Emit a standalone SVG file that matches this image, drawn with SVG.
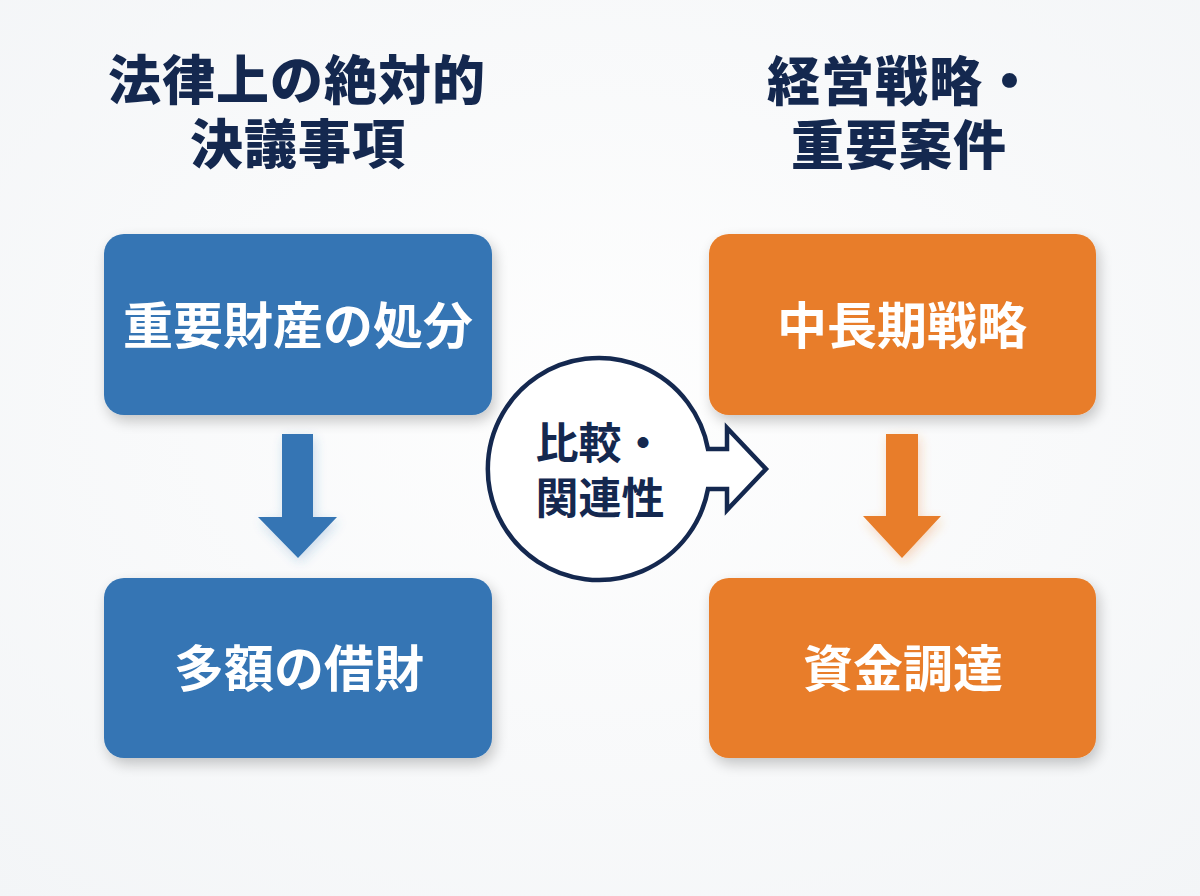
<svg xmlns="http://www.w3.org/2000/svg" width="1200" height="896" viewBox="0 0 1200 896">
  <defs>
    <radialGradient id="bg" cx="50%" cy="45%" r="75%">
      <stop offset="0" stop-color="#FEFEFE"/>
      <stop offset="1" stop-color="#F3F5F7"/>
    </radialGradient>
    <filter id="shadow" x="-15%" y="-15%" width="130%" height="140%">
      <feGaussianBlur in="SourceAlpha" stdDeviation="7"/>
      <feOffset dx="3" dy="6" result="b"/>
      <feComponentTransfer><feFuncA type="linear" slope="0.22"/></feComponentTransfer>
      <feMerge><feMergeNode/><feMergeNode in="SourceGraphic"/></feMerge>
    </filter>
    <filter id="glowBlue" x="-40%" y="-20%" width="180%" height="150%">
      <feGaussianBlur in="SourceGraphic" stdDeviation="6"/>
      <feOffset dx="2" dy="4"/>
      <feComponentTransfer><feFuncA type="linear" slope="0.25"/></feComponentTransfer>
      <feMerge><feMergeNode/><feMergeNode in="SourceGraphic"/></feMerge>
    </filter>
    <filter id="glowOrange" x="-40%" y="-20%" width="180%" height="150%">
      <feGaussianBlur in="SourceGraphic" stdDeviation="6"/>
      <feOffset dx="2" dy="4"/>
      <feComponentTransfer><feFuncA type="linear" slope="0.3"/></feComponentTransfer>
      <feMerge><feMergeNode/><feMergeNode in="SourceGraphic"/></feMerge>
    </filter>
  </defs>
  <style>
    text { font-family: "Noto Sans CJK JP", "Noto Sans", sans-serif; font-weight: 700; text-anchor: middle; }
    .title { font-size: 53px; fill: #14284F; font-weight: 900; letter-spacing: 1px; }
    .label { font-size: 50px; fill: #FFFFFF; }
    .center { font-size: 43px; fill: #14284F; }
    .blue { fill: #3475B4; }
    .orange { fill: #E87D29; }
  </style>
  <rect width="1200" height="896" fill="url(#bg)"/>

  <g id="title-left">
    <text class="title" x="297" y="100">法律上の絶対的</text>
    <text class="title" x="298" y="164">決議事項</text>
  </g>
  <g id="title-right">
    <text class="title" x="902" y="101">経営戦略・</text>
    <text class="title" x="899" y="165">重要案件</text>
  </g>

  <g id="node-disposal">
    <rect class="blue" x="104" y="234" width="388" height="181" rx="20" filter="url(#shadow)"/>
    <text class="label" x="298" y="344">重要財産の処分</text>
  </g>
  <g id="node-borrowing">
    <rect class="blue" x="104" y="578" width="388" height="180" rx="20" filter="url(#shadow)"/>
    <text class="label" x="299" y="687">多額の借財</text>
  </g>
  <g id="node-midterm">
    <rect class="orange" x="709" y="234" width="387" height="181" rx="20" filter="url(#shadow)"/>
    <text class="label" x="902" y="344">中長期戦略</text>
  </g>
  <g id="node-funding">
    <rect class="orange" x="709" y="578" width="387" height="180" rx="20" filter="url(#shadow)"/>
    <text class="label" x="903" y="687">資金調達</text>
  </g>

  <g id="connectors">
    <path class="blue" filter="url(#glowBlue)" d="M282,434 L313,434 L313,517 L337,517 L298,558 L258,517 L282,517 Z"/>
    <path class="orange" filter="url(#glowOrange)" d="M886,434 L918,434 L918,516 L941,516 L902,558 L863,516 L886,516 Z"/>
  </g>

  <g id="node-compare">
    <path d="M708,449 L727,449 L727,428 L766,469 L727,510 L727,489 L708,489 A111,111 0 1 1 708,449 Z" fill="#FFFFFF" stroke="#14284F" stroke-width="4.5" stroke-linejoin="miter"/>
    <text class="center" x="600" y="459">比較・</text>
    <text class="center" x="600" y="514">関連性</text>
  </g>
</svg>
